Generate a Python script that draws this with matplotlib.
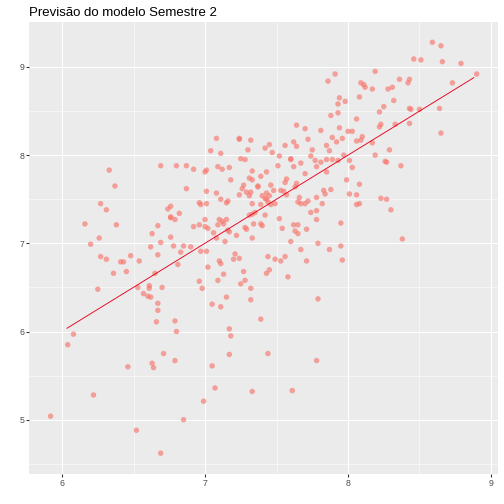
import matplotlib
matplotlib.use("Agg")
import matplotlib.pyplot as plt
from matplotlib.ticker import FixedLocator

plt.rcParams['font.family'] = ['Liberation Sans', 'DejaVu Sans']

title = "Previsão do modelo Semestre 2"

x_vals = [
    # left-upper group
    6.33, 6.37, 6.27, 6.31, 6.16, 6.38, 6.26, 6.20, 6.27, 6.31, 6.41, 6.43, 6.48, 6.54, 6.36, 6.45, 6.25,
    6.69, 6.80, 6.87, 6.87, 6.76, 6.74, 6.82, 6.76, 6.76, 6.79, 6.67, 6.63, 6.76, 6.69, 6.62, 6.78, 6.85,
    6.90, 6.83, 6.67, 6.81, 6.65, 6.61, 6.61, 6.53, 6.70, 6.57, 6.60, 6.62,
    # left-lower group
    6.67, 6.67, 6.66, 6.79, 6.80, 6.08, 6.04, 6.71, 6.63, 6.79, 6.64, 6.46, 6.22, 5.92, 6.85, 6.52, 6.69,
    # middle group
    7.86, 7.88,
    7.64, 7.70, 7.81, 7.08, 7.24, 7.24, 7.32, 7.45, 7.42, 7.56, 7.62, 7.64, 7.72, 7.89, 7.85, 7.87, 7.75,
    7.04, 7.11, 7.30, 7.47, 7.52, 7.74, 7.60, 7.60, 7.25, 7.28, 7.67, 7.77, 7.81, 7.85, 7.89, 7.51, 7.62,
    7.09, 7.12, 7.17, 7.33, 7.43, 7.39, 7.31, 7.33, 7.18, 7.00, 7.01, 6.92, 7.78, 7.70, 7.85, 7.57, 7.56,
    7.64, 7.46, 7.37, 7.37, 7.27, 7.26, 7.63, 7.01, 7.08, 7.29, 7.32, 7.24, 7.31, 7.48, 7.53, 7.55, 7.57,
    7.45, 7.43, 7.40, 7.42, 7.43, 7.11, 7.16, 7.15, 7.33, 7.39, 7.46, 7.49, 7.44, 6.96, 6.97, 7.01, 7.66,
    7.65, 7.67, 7.70, 7.72, 7.78, 7.83, 7.84, 7.88, 7.82, 7.74, 7.78, 7.78, 7.42, 7.35, 7.33, 7.31, 7.52,
    7.39, 7.40, 7.34, 7.28, 7.29, 7.54, 7.62, 7.65, 7.63, 7.65, 7.71, 7.22, 7.33, 7.16, 7.17, 7.09, 7.10,
    7.12, 7.13, 7.15, 7.00, 6.96, 6.92, 7.00, 7.02, 7.06, 7.08, 7.14, 6.97, 7.01, 7.60, 7.67, 7.79, 7.87,
    7.71, 7.53, 7.49, 7.44, 7.56, 7.21, 7.24, 7.20, 7.10, 7.11, 7.02, 7.27, 7.45, 7.43, 7.58, 7.13, 6.96,
    7.09, 7.28, 7.25, 6.98, 7.32,
    # middle-lower group
    7.15, 7.05, 7.11, 7.32, 7.79, 7.39, 7.17, 7.18, 7.17, 7.44, 7.78, 7.05, 7.07, 7.33, 7.61, 6.99,
    # right-upper group
    8.59, 8.65, 8.46, 8.51, 8.66, 8.79, 8.90, 8.73, 7.91, 8.19, 8.36, 8.42, 8.43, 8.09, 8.11, 8.12, 8.17,
    8.28, 8.31, 7.94, 7.93, 7.98, 8.08, 8.32, 8.25, 8.22, 7.93, 8.06, 8.43, 8.44, 8.50, 8.64, 8.43, 8.33,
    8.23, 8.22, 7.94, 8.00, 8.03, 7.96, 7.92, 8.06, 8.09, 8.10, 8.17, 8.65, 7.97, 8.19, 8.29,
    # right-middle group
    7.93, 8.01, 8.26, 8.27, 8.37, 8.03, 7.99, 8.08, 8.01, 8.06, 8.23, 8.27, 8.06, 8.08, 8.30, 7.95, 8.38,
    7.95, 7.96,
]

y_vals = [
    # left-upper group
    7.83, 7.65, 7.45, 7.38, 7.22, 7.21, 7.06, 6.99, 6.85, 6.82, 6.79, 6.79, 6.86, 6.80, 6.66, 6.68, 6.48,
    7.88, 7.88, 7.88, 7.62, 7.42, 7.39, 7.34, 7.30, 7.29, 7.27, 7.20, 7.11, 7.07, 7.01, 6.96, 6.97, 6.97,
    6.96, 6.90, 6.87, 6.76, 6.66, 6.52, 6.49, 6.50, 6.50, 6.43, 6.40, 6.39,
    # left-lower group
    6.32, 6.24, 6.11, 6.12, 6.00, 5.97, 5.85, 5.75, 5.64, 5.67, 5.59, 5.60, 5.28, 5.04, 5.00, 4.88, 4.62,
    # middle group
    8.84, 8.45,
    8.34, 8.30, 8.28, 8.19, 8.19, 8.18, 8.17, 8.12, 8.08, 8.11, 8.15, 8.10, 8.18, 8.20, 8.11, 8.05, 8.06,
    8.05, 8.02, 8.06, 8.03, 7.99, 7.99, 7.96, 7.95, 7.96, 7.95, 7.91, 7.94, 7.92, 7.95, 7.95, 7.88, 7.87,
    7.87, 7.84, 7.86, 7.82, 7.81, 7.76, 7.74, 7.72, 7.72, 7.81, 7.83, 7.84, 7.87, 7.79, 7.81, 7.73, 7.69,
    7.68, 7.66, 7.65, 7.64, 7.66, 7.62, 7.64, 7.59, 7.57, 7.58, 7.58, 7.55, 7.54, 7.60, 7.60, 7.59, 7.55,
    7.54, 7.57, 7.54, 7.51, 7.50, 7.50, 7.48, 7.46, 7.45, 7.44, 7.44, 7.45, 7.47, 7.46, 7.44, 7.45, 7.52,
    7.47, 7.45, 7.45, 7.48, 7.52, 7.60, 7.56, 7.61, 7.45, 7.35, 7.37, 7.27, 7.32, 7.35, 7.33, 7.32, 7.28,
    7.22, 7.20, 7.22, 7.18, 7.16, 7.17, 7.21, 7.21, 7.14, 7.11, 7.16, 7.09, 7.06, 7.15, 7.13, 7.21, 7.27,
    7.25, 7.22, 7.27, 7.27, 7.21, 7.19, 7.19, 7.17, 7.12, 7.06, 7.02, 6.91, 6.91, 7.02, 6.93, 7.00, 6.93,
    6.80, 6.80, 6.82, 6.85, 6.85, 6.88, 6.83, 6.82, 6.80, 6.77, 6.73, 6.68, 6.70, 6.66, 6.62, 6.65, 6.57,
    6.58, 6.58, 6.54, 6.49, 6.49,
    # middle-lower group
    6.39, 6.31, 6.28, 6.36, 6.37, 6.14, 6.03, 5.95, 5.74, 5.75, 5.67, 5.61, 5.36, 5.32, 5.33, 5.21,
    # right-upper group
    9.28, 9.24, 9.09, 9.08, 9.06, 9.04, 8.92, 8.82, 8.92, 8.95, 8.86, 8.82, 8.86, 8.82, 8.80, 8.77, 8.75,
    8.75, 8.77, 8.65, 8.58, 8.61, 8.66, 8.62, 8.55, 8.49, 8.48, 8.41, 8.53, 8.52, 8.52, 8.53, 8.36, 8.35,
    8.35, 8.32, 8.31, 8.27, 8.27, 8.19, 8.15, 8.16, 8.17, 8.21, 8.14, 8.25, 8.00, 8.00, 8.06,
    # right-middle group
    7.94, 7.94, 7.93, 7.92, 7.88, 7.86, 7.72, 7.67, 7.56, 7.55, 7.51, 7.50, 7.44, 7.45, 7.38, 7.23, 7.05,
    6.97, 6.81,
]

line_x = [6.035, 8.88]
line_y = [6.037, 8.879]

x_major = [6, 7, 8, 9]
x_minor = [6.5, 7.5, 8.5]
y_major = [5, 6, 7, 8, 9]
y_minor = [4.5, 5.5, 6.5, 7.5, 8.5]
x_labels = ["6", "7", "8", "9"]
y_labels = ["5", "6", "7", "8", "9"]

fig = plt.figure(figsize=(7, 7), dpi=72)
ax = fig.add_axes([29/504, 1 - 474/504, (498 - 29)/504, (474 - 22)/504])
ax.set_facecolor("#EBEBEB")
for s in ax.spines.values():
    s.set_visible(False)

ax.set_xlim(5.769, 9.049)
ax.set_ylim(4.384, 9.51)

ax.xaxis.set_major_locator(FixedLocator(x_major))
ax.xaxis.set_minor_locator(FixedLocator(x_minor))
ax.yaxis.set_major_locator(FixedLocator(y_major))
ax.yaxis.set_minor_locator(FixedLocator(y_minor))
ax.set_xticklabels(x_labels)
ax.set_yticklabels(y_labels)

ax.grid(which="major", color="white", linewidth=1.07)
ax.grid(which="minor", color="white", linewidth=0.53)
ax.set_axisbelow(True)
ax.tick_params(which="major", length=2.75, width=1.07, color="#333333",
               labelsize=8.8, labelcolor="#4D4D4D", pad=2.2)
ax.tick_params(which="minor", length=0)

ax.scatter(x_vals, y_vals, s=30, color="#F8766D", alpha=0.65, edgecolors="none", zorder=2)
ax.plot(line_x, line_y, color="#E8001C", linewidth=0.9, zorder=3)

ax.set_title(title, loc="left", fontsize=13.2, color="black", pad=6.5)

fig.savefig("out.png", dpi=72)
